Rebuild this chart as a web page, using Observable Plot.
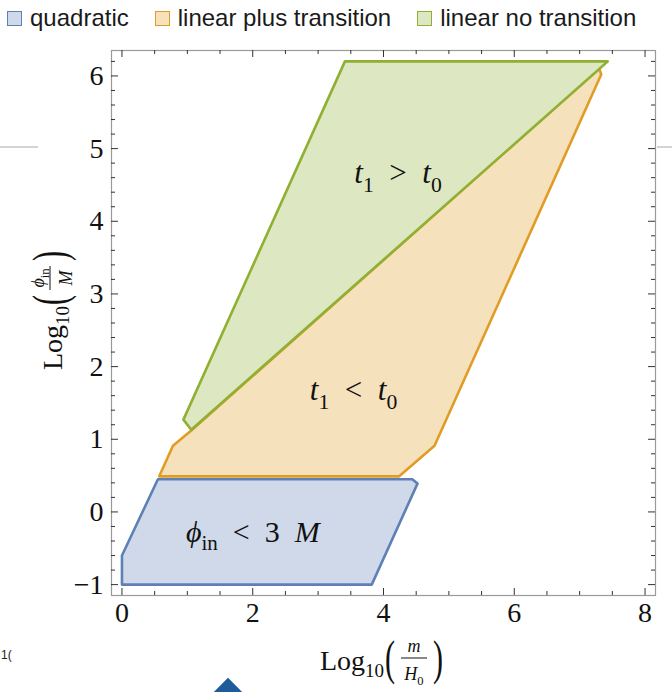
<!DOCTYPE html>
<html>
<head>
<meta charset="utf-8">
<script src="https://cdn.jsdelivr.net/npm/d3@7"></script>
<script src="https://cdn.jsdelivr.net/npm/@observablehq/plot@0.6"></script>
<style>
  body { margin: 0; background: #fff; width: 672px; height: 692px; position: relative; overflow: hidden; }
  #legend { height: 36px; padding-left: 7px; box-sizing: border-box; display: flex; align-items: center;
            font-family: "Liberation Sans", Arial, sans-serif; font-size: 24px; color: #1a1a1a; }
  .item { display: flex; align-items: center; white-space: nowrap; margin-right: 26px; }
  .sw { width: 13px; height: 13px; border: 1.5px solid; margin-right: 8px; }
  #chart svg { display: block; }
  .deco { position: absolute; }
</style>
</head>
<body>
<div id="legend"></div>
<div id="chart"></div>
<div class="deco" style="left:0;top:146px;width:38px;height:2px;background:#d4d4d4"></div>
<div class="deco" style="left:657px;top:146px;width:15px;height:2px;background:#d4d4d4"></div>
<div class="deco" style="left:1px;top:648px;font:12px 'Liberation Sans',sans-serif;color:#222">1(</div>
<div class="deco" style="left:218px;top:682px;width:20px;height:20px;background:#1d5b9d;transform:rotate(45deg)"></div>
<script>
// Region names and colours
const regions = ["quadratic", "linear plus transition", "linear no transition"];
const strokeColors = ["#5e81b5", "#e19c24", "#8fb032"];
const fillColors = ["#cfd9e9", "#f6e1bd", "#dde7c1"];

// Polygon vertices: x = log10(m/H0), y = log10(phi_in/M)
const quadX = [0, 0, 0.55, 4.44, 4.52, 3.82];
const quadY = [-1, -0.6, 0.45, 0.45, 0.39, -1];
const plusX = [0.57, 0.78, 1.06, 7.30, 7.33, 4.78, 4.24];
const plusY = [0.49, 0.91, 1.12, 6.10, 6.02, 0.91, 0.49];
const noX = [0.94, 1.06, 7.43, 3.41];
const noY = [1.27, 1.13, 6.20, 6.20];

// Axis ticks
const xTicks = [0, 2, 4, 6, 8];
const xMinor = [0.5, 1, 1.5, 2.5, 3, 3.5, 4.5, 5, 5.5, 6.5, 7, 7.5];
const yTicks = [-1, 0, 1, 2, 3, 4, 5, 6];
const yMinor = [-0.8, -0.6, -0.4, -0.2, 0.2, 0.4, 0.6, 0.8, 1.2, 1.4, 1.6, 1.8,
                2.2, 2.4, 2.6, 2.8, 3.2, 3.4, 3.6, 3.8, 4.2, 4.4, 4.6, 4.8,
                5.2, 5.4, 5.6, 5.8, 6.2];

// Region annotations (centre x, baseline y)
const noteX = [4.23, 3.55, 2.01];
const noteY = [4.52, 1.53, -0.42];

const toPoints = (xs, ys) => xs.map((x, i) => ({x, y: ys[i]}));
const quad = toPoints(quadX, quadY);
const plus = toPoints(plusX, plusY);
const none = toPoints(noX, noY);

// Legend
const legend = document.getElementById("legend");
regions.forEach((name, i) => {
  const it = document.createElement("div");
  it.className = "item";
  const sw = document.createElement("span");
  sw.className = "sw";
  sw.style.background = fillColors[i];
  sw.style.borderColor = strokeColors[i];
  it.appendChild(sw);
  it.appendChild(document.createTextNode(name));
  legend.appendChild(it);
});

const W = 672, H = 656;
const mt = 14, mb = 97, ml = 111, mr = 17;
const innerH = H - mt - mb, innerW = W - ml - mr;
const major = 7, minor = 4, tickColor = "#333";
const serif = "'Liberation Serif', 'Times New Roman', serif";

const poly = (data, i) => Plot.line(data, {
  x: "x", y: "y", curve: "linear-closed",
  fill: fillColors[i], stroke: strokeColors[i], strokeWidth: 2.6, strokeLinejoin: "round"
});

const plot = Plot.plot({
  width: W, height: H,
  marginTop: mt, marginBottom: mb, marginLeft: ml, marginRight: mr,
  x: {domain: [-0.16, 8.16]},
  y: {domain: [-1.15, 6.35]},
  style: {fontFamily: serif, background: "transparent"},
  marks: [
    poly(quad, 0),
    poly(plus, 1),
    poly(none, 2),
    Plot.frame({stroke: "#9a9a9a", strokeWidth: 1.2}),
    // inward frame ticks on all four sides
    Plot.ruleX(xTicks, {x: d => d, insetTop: innerH - major, stroke: tickColor}),
    Plot.ruleX(xMinor, {x: d => d, insetTop: innerH - minor, stroke: tickColor}),
    Plot.ruleX(xTicks, {x: d => d, insetBottom: innerH - major, stroke: tickColor}),
    Plot.ruleX(xMinor, {x: d => d, insetBottom: innerH - minor, stroke: tickColor}),
    Plot.ruleY(yTicks, {y: d => d, insetRight: innerW - major, stroke: tickColor}),
    Plot.ruleY(yMinor, {y: d => d, insetRight: innerW - minor, stroke: tickColor}),
    Plot.ruleY(yTicks, {y: d => d, insetLeft: innerW - major, stroke: tickColor}),
    Plot.ruleY(yMinor, {y: d => d, insetLeft: innerW - minor, stroke: tickColor}),
    Plot.axisX({ticks: xTicks, tickSize: 0, tickPadding: 7, fontSize: 28, fill: "#111", label: null}),
    Plot.axisY({ticks: yTicks, tickSize: 0, tickPadding: 8, fontSize: 28, fill: "#111", label: null})
  ]
});
document.getElementById("chart").appendChild(plot);

const svg = d3.select(plot);
// tick labels in the same serif face as the rest of the figure
svg.selectAll("text").style("font-family", serif);
const sx = plot.scale("x"), sy = plot.scale("y");
const ink = "#111";

// Inline math-style text: parts are {t, i (italic), sub (subscript)}
function mathText(parent, x, y, parts, size, anchor = "middle") {
  const text = parent.append("text")
    .attr("x", x).attr("y", y)
    .attr("text-anchor", anchor)
    .style("font-family", serif)
    .attr("font-size", size)
    .attr("fill", ink);
  let shifted = 0;
  parts.forEach(p => {
    const ts = text.append("tspan").text(p.t);
    if (p.i) ts.attr("font-style", "italic");
    const want = p.sub ? Math.round(size * 0.28) : 0;
    if (want !== shifted) { ts.attr("dy", want - shifted); shifted = want; }
    if (p.sub) ts.attr("font-size", size * 0.7);
  });
  return text;
}

const notes = [
  {size: 31, parts: [{t: "t", i: 1}, {t: "1", sub: 1}, {t: "\u2002>\u2002"}, {t: "t", i: 1}, {t: "0", sub: 1}]},
  {size: 31, parts: [{t: "t", i: 1}, {t: "1", sub: 1}, {t: "\u2002<\u2002"}, {t: "t", i: 1}, {t: "0", sub: 1}]},
  {size: 30, parts: [{t: "\u03d5", i: 1}, {t: "in", sub: 1}, {t: "\u2002<\u2002"}, {t: "3"}, {t: "\u2002"}, {t: "M", i: 1}]}
];
notes.forEach((n, k) => mathText(svg, sx.apply(noteX[k]), sy.apply(noteY[k]), n.parts, n.size));

// Axis title Log10( num / den ) laid out from the origin of g; offsets are along the text direction
function logLabel(g, num, den, L) {
  const text = (x, y, str, size) => g.append("text").attr("x", x).attr("y", y)
    .attr("text-anchor", "start").style("font-family", serif)
    .attr("font-size", size).attr("fill", ink).text(str);
  text(0, 0, "Log", 28);
  text(L.sub, 7, "10", 19);
  const paren = (x, ch) => g.append("g")
    .attr("transform", `translate(${x},-8) scale(1,1.6)`)
    .append("text").attr("y", 7.5).attr("text-anchor", "middle")
    .style("font-family", serif).attr("font-size", 30).attr("fill", ink).text(ch);
  paren(L.open, "(");
  mathText(g, L.frac, -18, num, 18, "middle");
  mathText(g, L.frac, 10, den, 18, "middle");
  g.append("line").attr("x1", L.frac - L.bar / 2).attr("x2", L.frac + L.bar / 2)
    .attr("y1", -12).attr("y2", -12).attr("stroke", ink).attr("stroke-width", 1);
  paren(L.close, ")");
}

const xl = svg.append("g").attr("transform", "translate(320,634)");
logLabel(xl, [{t: "m", i: 1}], [{t: "H", i: 1}, {t: "0", sub: 1}],
  {sub: 45, open: 70, frac: 94, bar: 26, close: 118});

const yl = svg.append("g").attr("transform", "translate(62,334) rotate(-90)");
logLabel(yl, [{t: "\u03d5", i: 1}, {t: "in", sub: 1}], [{t: "M", i: 1}],
  {sub: 45, open: 70, frac: 92, bar: 24, close: 114});
</script>
</body>
</html>
